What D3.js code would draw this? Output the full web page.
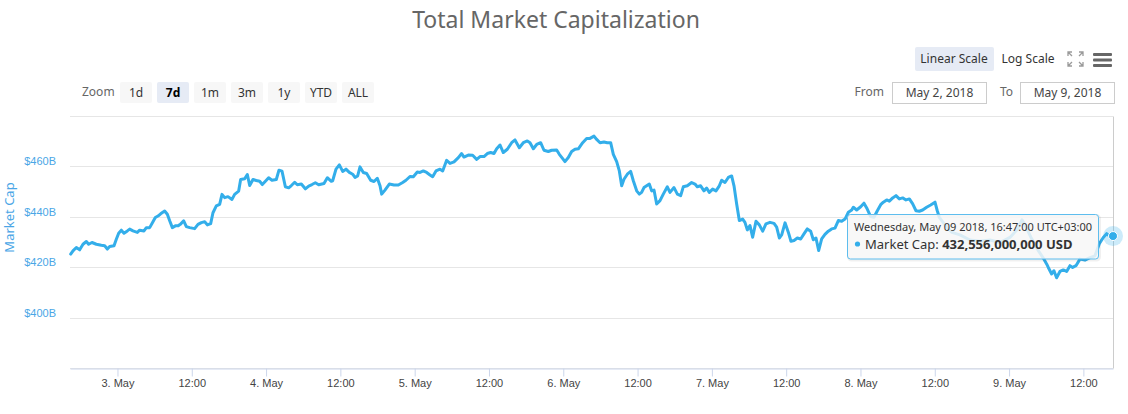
<!DOCTYPE html>
<html><head><meta charset="utf-8">
<script src="https://cdn.jsdelivr.net/npm/d3@7"></script>
<style>
body{margin:0;background:#fff;}
svg{display:block;font-family:"Lucida Grande","Lucida Sans Unicode","Noto Sans",sans-serif;}
</style></head><body>
<svg id="chart" width="1128" height="414"></svg>
<script>
// ---------- data ----------
const chartTitle = "Total Market Capitalization";
const seriesName = "Market Cap";
const rangeStartUTC = Date.UTC(2018, 4, 2, 16, 20); // wall-clock times shown in UTC+03:00
const rangeHours = 168.45;                           // to May 9 2018 16:47
const hoursFromStart = [
0.11,0.48,1.02,1.56,2.10,2.64,3.01,3.55,4.25,5.06,5.60,6.03,6.41,7.11,7.48,7.86,8.29,8.72,9.26,9.64,
10.17,10.87,11.25,11.95,12.33,12.87,13.40,13.78,14.21,14.64,15.29,15.72,16.10,16.53,17.01,17.44,17.82,18.36,18.79,19.33,
20.13,20.67,21.21,21.75,22.18,22.72,23.09,23.63,24.17,24.55,24.98,25.52,26.16,26.59,27.24,27.56,28.21,28.64,29.02,29.55,
30.09,30.63,31.06,31.71,32.08,32.62,33.32,33.75,34.24,34.78,35.32,35.75,36.29,36.71,37.36,38.01,38.55,39.08,39.62,40.16,
41.02,41.56,42.20,42.42,42.96,43.50,44.04,44.57,45.11,45.65,46.03,46.46,46.84,47.37,47.91,48.56,49.10,49.63,50.07,50.34,
50.87,51.57,52.33,53.03,53.73,54.26,54.91,55.45,56.09,56.53,57.06,57.60,58.14,58.57,59.11,59.76,60.19,60.83,61.37,62.02,
62.72,63.25,63.63,64.33,65.03,65.68,66.22,66.86,67.40,67.94,68.48,68.91,69.45,69.98,70.63,71.33,71.87,72.57,73.21,73.86,
74.29,74.83,75.37,76.01,76.55,77.25,77.79,78.60,79.03,79.57,79.94,80.48,81.02,81.56,82.10,82.80,83.44,83.98,84.63,85.06,
85.60,86.24,86.78,87.32,87.75,88.29,88.72,89.10,89.47,90.01,90.55,90.98,91.52,91.95,92.32,92.70,93.13,93.56,93.94,94.32,
94.75,95.29,95.82,96.47,96.90,97.55,98.09,98.63,99.05,99.70,100.40,100.94,101.31,101.85,102.39,102.82,103.25,103.79,104.33,104.87,
105.24,105.78,106.32,106.86,107.24,107.67,108.10,108.64,109.01,109.39,109.82,110.25,110.79,111.33,111.87,112.40,113.05,113.70,114.13,114.56,
114.94,115.48,116.01,116.44,116.93,117.47,118.01,118.54,119.08,119.62,120.05,120.48,120.91,121.40,121.93,122.47,123.01,123.55,124.09,124.63,
125.17,125.71,126.25,126.51,127.05,127.70,128.23,128.67,129.31,129.85,130.39,130.93,131.36,131.90,132.33,132.87,133.40,133.94,134.48,135.02,
135.56,136.10,136.63,137.17,137.71,138.35,139.00,139.70,140.07,140.40,141.31,142.44,143.73,145.35,146.96,148.58,150.20,151.81,153.10,153.75,
154.23,155.20,156.33,157.14,157.73,158.00,158.54,158.91,159.34,159.88,160.42,160.96,161.50,161.93,162.47,163.11,163.92,164.73,165.54,166.24,
166.88,167.42,167.96,168.45
];
const marketCapB = [
425.4,426.7,428.0,427.1,429.3,430.4,429.3,430.0,429.3,428.9,428.7,427.4,428.4,428.7,431.3,433.7,434.9,433.7,434.6,435.3,
434.6,434.0,434.9,434.6,435.9,435.9,438.2,439.9,440.5,441.4,442.5,441.2,438.6,435.9,436.6,436.6,437.2,438.6,436.3,435.9,
435.5,437.2,437.9,438.2,437.0,437.5,441.8,444.5,445.1,449.1,447.8,448.2,447.1,449.1,450.4,455.0,455.3,457.0,452.6,455.0,
454.6,454.3,453.0,454.7,455.7,454.7,455.0,458.7,458.3,452.1,451.7,452.6,453.9,452.9,453.2,451.3,452.4,453.0,453.7,452.9,
453.4,455.7,454.3,454.5,459.1,460.8,458.2,459.1,457.8,457.1,455.8,456.4,460.0,457.8,457.4,454.7,454.2,455.5,452.5,449.2,
450.8,453.2,452.8,452.8,453.8,454.7,456.2,456.1,458.0,457.8,458.4,457.8,456.8,456.1,458.4,459.1,458.4,462.6,461.4,462.0,
463.7,465.3,463.9,464.7,464.6,463.0,464.1,464.1,465.3,465.7,465.3,467.2,468.7,465.7,467.0,469.6,470.7,467.6,469.6,470.3,
469.6,467.2,468.9,469.6,466.6,466.1,466.6,466.7,465.0,463.3,462.1,463.7,466.1,467.0,467.2,469.6,471.3,471.3,472.2,470.9,
469.6,469.9,469.6,469.6,465.0,462.1,458.4,452.5,455.1,457.1,458.2,454.5,450.5,449.2,449.9,451.8,452.5,453.2,450.5,450.8,
445.3,446.6,449.2,452.1,449.9,451.8,449.2,448.6,452.1,452.5,453.8,453.2,452.1,452.5,450.5,451.6,449.9,451.2,450.5,452.5,
454.7,453.8,455.8,456.4,452.5,445.3,438.7,439.3,438.0,435.0,436.7,432.1,438.4,437.0,434.5,437.4,438.0,437.6,436.1,431.8,
433.0,437.8,434.1,430.5,430.8,431.8,431.4,433.4,435.4,434.5,431.1,431.8,426.8,431.4,433.2,434.5,435.4,435.7,438.7,438.4,
439.3,442.0,442.9,444.0,442.9,444.2,445.6,443.7,440.3,440.0,442.6,445.0,446.0,446.9,446.4,447.7,448.6,447.3,447.7,446.9,
447.3,445.3,442.6,442.4,442.9,444.0,444.9,446.0,442.6,440.0,437.0,434.0,433.0,431.0,430.5,431.0,430.0,432.0,435.5,439.0,
437.0,432.0,427.0,424.0,421.5,420.1,417.5,418.8,416.0,418.5,419.1,418.5,420.8,420.1,420.8,423.4,423.0,424.0,424.7,429.5,
432.0,433.5,432.5,432.556
];
const yDomainB = [380, 480];
const yGridValues = [380, 400, 420, 440, 460, 480];
const yLabelValues = [400, 420, 440, 460];
const zoomButtons = ["1d", "7d", "1m", "3m", "1y", "YTD", "ALL"];
const selectedZoom = "7d";
const scaleButtons = ["Linear Scale", "Log Scale"];
const fromLabel = "May 2, 2018";
const toLabel = "May 9, 2018";
const tooltipHeader = "Wednesday, May 09 2018, 16:47:00 UTC+03:00";
const tooltipValueUSD = 432556000000;

// ---------- drawing ----------
const HOUR = 3600e3;
const lineColor = "#33aeea";
const labelBlue = "#4aa6e6";
const svg = d3.select("#chart");
const plot = {left: 70, right: 1113, top: 116.5, bottom: 368.5};

const data = hoursFromStart.map((h, i) => ({t: new Date(rangeStartUTC + h * HOUR), v: marketCapB[i]}));
const x = d3.scaleUtc()
  .domain([new Date(rangeStartUTC), new Date(rangeStartUTC + rangeHours * HOUR)])
  .range([plot.left, plot.right]);
const y = d3.scaleLinear().domain(yDomainB).range([plot.bottom, plot.top]);
const cy = v => Math.round(y(v) - 0.5) + 0.5;

// title
svg.append("text").attr("x", 556).attr("y", 28).attr("text-anchor", "middle")
  .attr("font-size", 23).attr("fill", "#666").text(chartTitle);

// grid
svg.append("g").selectAll("line").data(yGridValues).join("line")
  .attr("x1", plot.left).attr("x2", plot.right)
  .attr("y1", cy).attr("y2", cy)
  .attr("stroke", "#e6e6e6").attr("stroke-width", 1);

// y axis labels
const yAxis = svg.append("g").attr("transform", `translate(${plot.left},0)`)
  .call(d3.axisLeft(y).tickValues(yLabelValues).tickSize(0).tickPadding(14)
    .tickFormat(d => `$${d}B`));
yAxis.select(".domain").remove();
yAxis.selectAll("text").attr("font-family", null).attr("font-size", 11)
  .attr("fill", labelBlue).attr("dy", -2);

svg.append("text").attr("transform", `translate(14,${(plot.top + plot.bottom) / 2 - 25}) rotate(-90)`)
  .attr("text-anchor", "middle").attr("font-size", 13).attr("fill", labelBlue).text(seriesName);

// x axis
const xAxis = svg.append("g").attr("transform", `translate(0,${plot.bottom})`)
  .call(d3.axisBottom(x).ticks(d3.utcHour.every(12)).tickSize(8).tickSizeOuter(0).tickPadding(3)
    .tickFormat(d => d.getUTCHours() === 0 ? d3.utcFormat("%-d. %b")(d) : d3.utcFormat("%H:%M")(d)));
xAxis.select(".domain").attr("stroke", "#ccd6eb");
xAxis.selectAll(".tick line").attr("stroke", "#ccd6eb");
xAxis.selectAll("text").attr("font-family", null).attr("font-size", 11).attr("fill", "#444");

// crosshair at hovered point
const last = data[data.length - 1];
const px = x(last.t), py = y(last.v);
svg.append("line").attr("x1", Math.round(px) + 0.5).attr("x2", Math.round(px) + 0.5)
  .attr("y1", plot.top).attr("y2", plot.bottom).attr("stroke", "#cccccc");

// line
svg.append("path").datum(data)
  .attr("d", d3.line().x(d => x(d.t)).y(d => y(d.v)))
  .attr("fill", "none").attr("stroke", lineColor).attr("stroke-width", 3)
  .attr("stroke-linejoin", "round").attr("stroke-linecap", "round");

// hover marker
svg.append("circle").attr("cx", px).attr("cy", py).attr("r", 10)
  .attr("fill", lineColor).attr("fill-opacity", 0.25);
svg.append("circle").attr("cx", px).attr("cy", py).attr("r", 4.5)
  .attr("fill", lineColor).attr("stroke", "#fff").attr("stroke-width", 1);

// tooltip
const tipW = 251, tipH = 44.5;
const tipX = Math.round(px - 15 - tipW) + 0.5, tipY = Math.round(py - tipH / 2) + 0.5;
const tip = svg.append("g").attr("transform", `translate(${tipX},${tipY})`);
tip.append("rect").attr("x", 1).attr("y", 1).attr("width", tipW).attr("height", tipH).attr("rx", 3)
  .attr("fill", "none").attr("stroke", "#000").attr("stroke-opacity", 0.06).attr("stroke-width", 3);
tip.append("rect").attr("width", tipW).attr("height", tipH).attr("rx", 3)
  .attr("fill", "rgba(247,247,247,0.85)").attr("stroke", "#5dbdee").attr("stroke-width", 1);
tip.append("text").attr("x", 6.5).attr("y", 16.5).attr("font-size", 11).attr("fill", "#333").text(tooltipHeader);
tip.append("circle").attr("cx", 10).attr("cy", 29.5).attr("r", 2.6).attr("fill", lineColor);
const t2 = tip.append("text").attr("x", 17.5).attr("y", 34).attr("font-size", 13).attr("fill", "#333");
t2.append("tspan").text(`${seriesName}: `);
t2.append("tspan").attr("font-weight", "bold").text(`${d3.format(",")(tooltipValueUSD)} USD`);

// range selector
svg.append("text").attr("x", 82).attr("y", 96).attr("font-size", 12).attr("fill", "#666").text("Zoom");
const zb = svg.append("g").selectAll("g").data(zoomButtons).join("g")
  .attr("transform", (d, i) => `translate(${120 + i * 37},82)`);
zb.append("rect").attr("width", 32).attr("height", 21).attr("rx", 2)
  .attr("fill", d => d === selectedZoom ? "#e6ebf5" : "#f7f7f7");
zb.append("text").attr("x", 16).attr("y", 14.5).attr("text-anchor", "middle").attr("font-size", 12)
  .attr("font-weight", d => d === selectedZoom ? "bold" : null)
  .attr("fill", d => d === selectedZoom ? "#000" : "#333").text(d => d);

// scale buttons
svg.append("rect").attr("x", 915).attr("y", 47).attr("width", 79).attr("height", 24).attr("rx", 2).attr("fill", "#e6ebf5");
svg.append("text").attr("x", 954).attr("y", 63).attr("text-anchor", "middle").attr("font-size", 12).attr("fill", "#333").text(scaleButtons[0]);
svg.append("text").attr("x", 1028).attr("y", 63).attr("text-anchor", "middle").attr("font-size", 12).attr("fill", "#333").text(scaleButtons[1]);

// fullscreen icon
const fi = svg.append("g").attr("stroke", "#9a9a9a").attr("stroke-width", 1.3).attr("fill", "none");
[[1068, 52, 1, 1], [1083, 52, -1, 1], [1068, 66, 1, -1], [1083, 66, -1, -1]].forEach(([cx0, cy0, sx, sy]) => {
  fi.append("path").attr("d", `M${cx0},${cy0 + sy * 4}L${cx0},${cy0}L${cx0 + sx * 4},${cy0}M${cx0},${cy0}L${cx0 + sx * 4},${cy0 + sy * 4}`);
});
// menu icon
svg.append("g").selectAll("rect").data([0, 1, 2]).join("rect")
  .attr("x", 1093).attr("y", d => 53 + d * 5.5).attr("width", 19).attr("height", 3).attr("rx", 1)
  .attr("fill", "#666");

// date inputs
svg.append("text").attr("x", 884).attr("y", 96).attr("text-anchor", "end").attr("font-size", 12).attr("fill", "#666").text("From");
svg.append("text").attr("x", 1013).attr("y", 96).attr("text-anchor", "end").attr("font-size", 12).attr("fill", "#666").text("To");
[[892.5, fromLabel], [1020.5, toLabel]].forEach(([bx, label]) => {
  svg.append("rect").attr("x", bx).attr("y", 82.5).attr("width", 94).attr("height", 21)
    .attr("fill", "#fff").attr("stroke", "#cccccc");
  svg.append("text").attr("x", bx + 47).attr("y", 97).attr("text-anchor", "middle").attr("font-size", 12)
    .attr("fill", "#444").text(label);
});
</script>
</body></html>
